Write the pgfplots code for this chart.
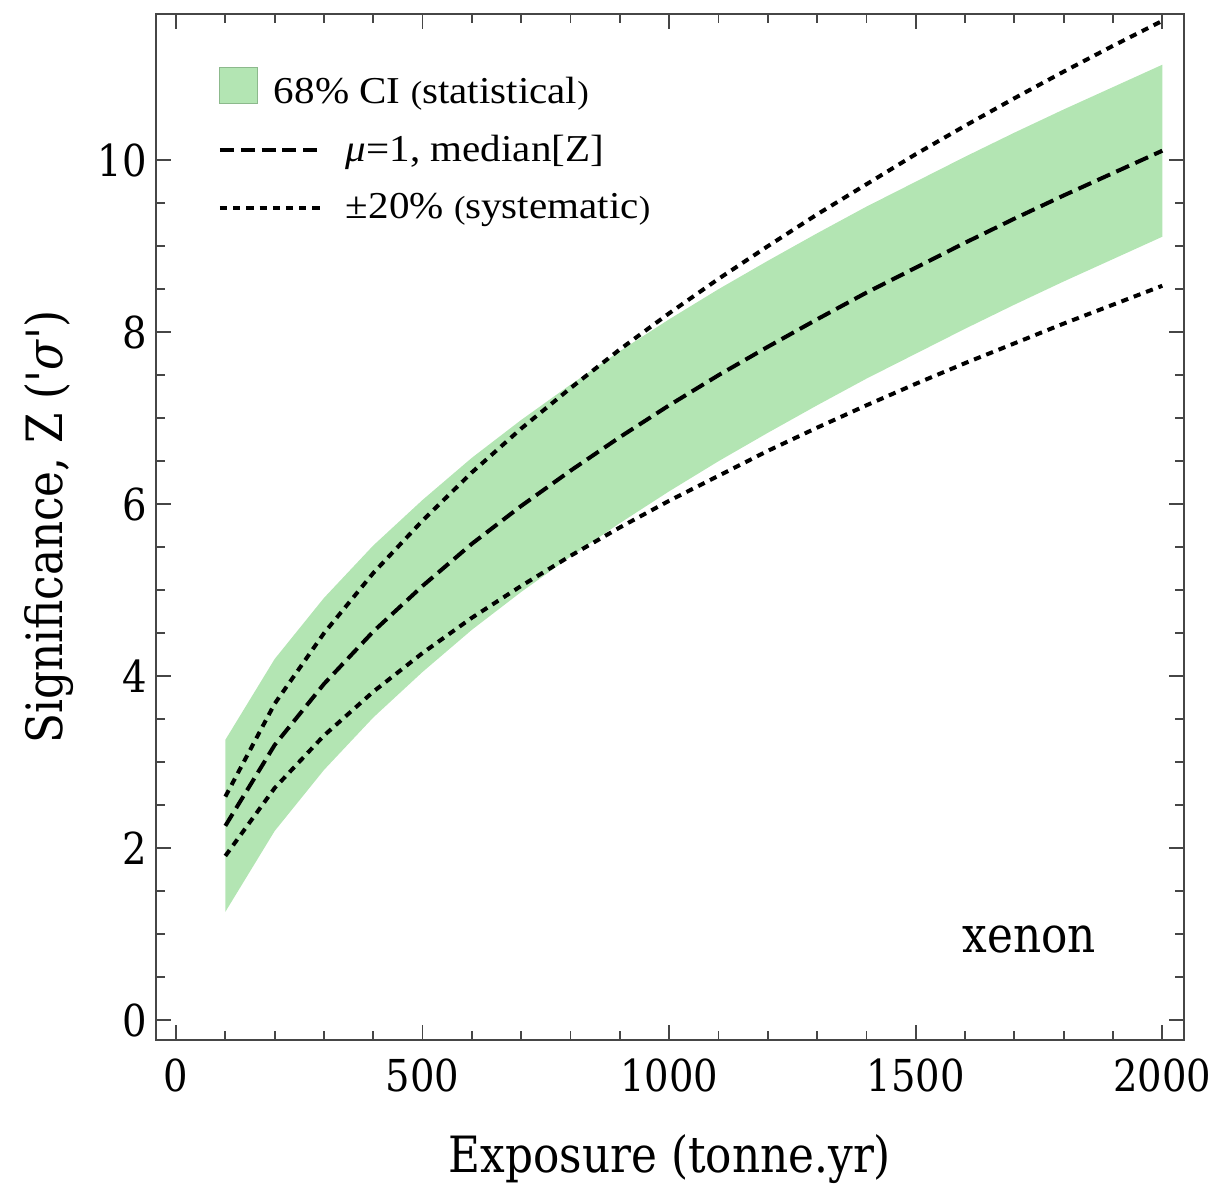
\documentclass[border=0pt]{standalone}
\usepackage{fontspec}
\setmainfont{DejaVu Serif}[FakeStretch=0.875]
\newfontfamily\legfont{Liberation Serif}[FakeStretch=1.08]
\newfontfamily\labfont{DejaVu Serif}[FakeStretch=0.875,Ligatures=TeXOff]
\usepackage{pgfplots}
\usepackage{pgfplotstable}
\usepgfplotslibrary{fillbetween}
\pgfplotsset{compat=1.18}
\definecolor{band}{RGB}{179,229,179}
\definecolor{bandedge}{RGB}{140,185,140}
\definecolor{framec}{RGB}{70,70,70}
\newcommand\smp[1]{{\fontsize{16}{16}\selectfont #1}}

\pgfplotstableread{
x med up lo bup blo
100 2.26 2.60 1.91 3.26 1.26
200 3.20 3.68 2.70 4.20 2.20
300 3.91 4.50 3.31 4.91 2.91
400 4.52 5.20 3.82 5.52 3.52
500 5.05 5.81 4.27 6.05 4.05
600 5.54 6.37 4.68 6.54 4.54
700 5.98 6.88 5.05 6.98 4.98
800 6.39 7.35 5.40 7.39 5.39
900 6.78 7.80 5.73 7.78 5.78
1000 7.15 8.22 6.04 8.15 6.15
1100 7.50 8.62 6.33 8.50 6.50
1200 7.83 9.00 6.62 8.83 6.83
1300 8.15 9.37 6.89 9.15 7.15
1400 8.46 9.72 7.15 9.46 7.46
1500 8.75 10.07 7.40 9.75 7.75
1600 9.04 10.40 7.64 10.04 8.04
1700 9.32 10.72 7.87 10.32 8.32
1800 9.59 11.03 8.10 10.59 8.59
1900 9.85 11.33 8.32 10.85 8.85
2000 10.11 11.62 8.54 11.11 9.11
}\data

\begin{document}
\begin{tikzpicture}
\begin{axis}[
  scale only axis, width=514pt, height=513pt,
  xmin=-40.6, xmax=2044, ymin=-0.23, ymax=11.70,
  xtick={0,500,1000,1500,2000}, minor x tick num=4,
  ytick={0,2,4,6,8,10}, minor y tick num=3,
  tick align=inside,
  major tick length=7.5pt, minor tick length=4.5pt,
  axis line style={framec, line width=1pt},
  every tick/.style={framec, line width=0.9pt},
  /pgf/number format/assume math mode=true,
  /pgf/number format/set thousands separator={},
  tick label style={font=\fontsize{22}{26}\selectfont},
  xticklabel style={yshift=-6pt},
  yticklabel style={xshift=-1pt},
  xlabel={Exposure (tonne.yr)},
  ylabel={\labfont Significance, Z ('\textit{σ}')},
  label style={font=\fontsize{25}{30}\selectfont},
  xlabel style={at={(axis description cs:0.5,-0.1287)}, anchor=base},
  ylabel style={at={(axis description cs:-0.0914,0.5)}, anchor=base, rotate=0},
  legend style={draw=none, fill=none, inner sep=0pt, outer sep=0pt,
    at={(axis description cs:0.0603,0.9483)}, anchor=north west,
    font=\legfont\fontsize{19}{22}\selectfont,
    row sep=14.5pt, column sep=0pt,
    nodes={inner sep=0pt}},
  legend cell align=left,
  legend image code/.code={\draw[#1] (0pt,0pt) -- (50pt,0pt); \path[draw=none] (0pt,0pt) -- (63pt,0pt);},
]
\addlegendimage{legend image code/.code={\draw[fill=band, draw=bandedge, line width=0.5pt] (0pt,-6pt) rectangle (19pt,12pt); \path[draw=none] (0pt,0pt) -- (63pt,0pt);}}
\addlegendentry{\hspace*{-36pt}68\% CI \smp{(}statistical\smp{)}}
\addplot[draw=none, name path=A, forget plot] table[x=x, y=bup] {\data};
\addplot[draw=none, name path=B, forget plot] table[x=x, y=blo] {\data};
\addplot[band, draw=none, forget plot] fill between[of=A and B];
\addplot[black, line width=2pt, dash pattern=on 7pt off 3.4pt] table[x=x, y=med] {\data};
\addlegendentry{\textit{μ}=1, median[Z]}
\addplot[black, line width=2pt, dash pattern=on 3.6pt off 3pt] table[x=x, y=up] {\data};
\addlegendentry{±20\% \smp{(}systematic\smp{)}}
\addplot[black, line width=2pt, dash pattern=on 3.6pt off 3pt, forget plot] table[x=x, y=lo] {\data};
\node[anchor=base, font=\fontsize{25}{30}\selectfont] at (axis cs:1730,0.79) {xenon};
\end{axis}
\pgfresetboundingbox
\path ([shift={(-78pt,-72pt)}]current axis.south west) rectangle ([shift={(17.5pt,7pt)}]current axis.north east);
\end{tikzpicture}
\end{document}
